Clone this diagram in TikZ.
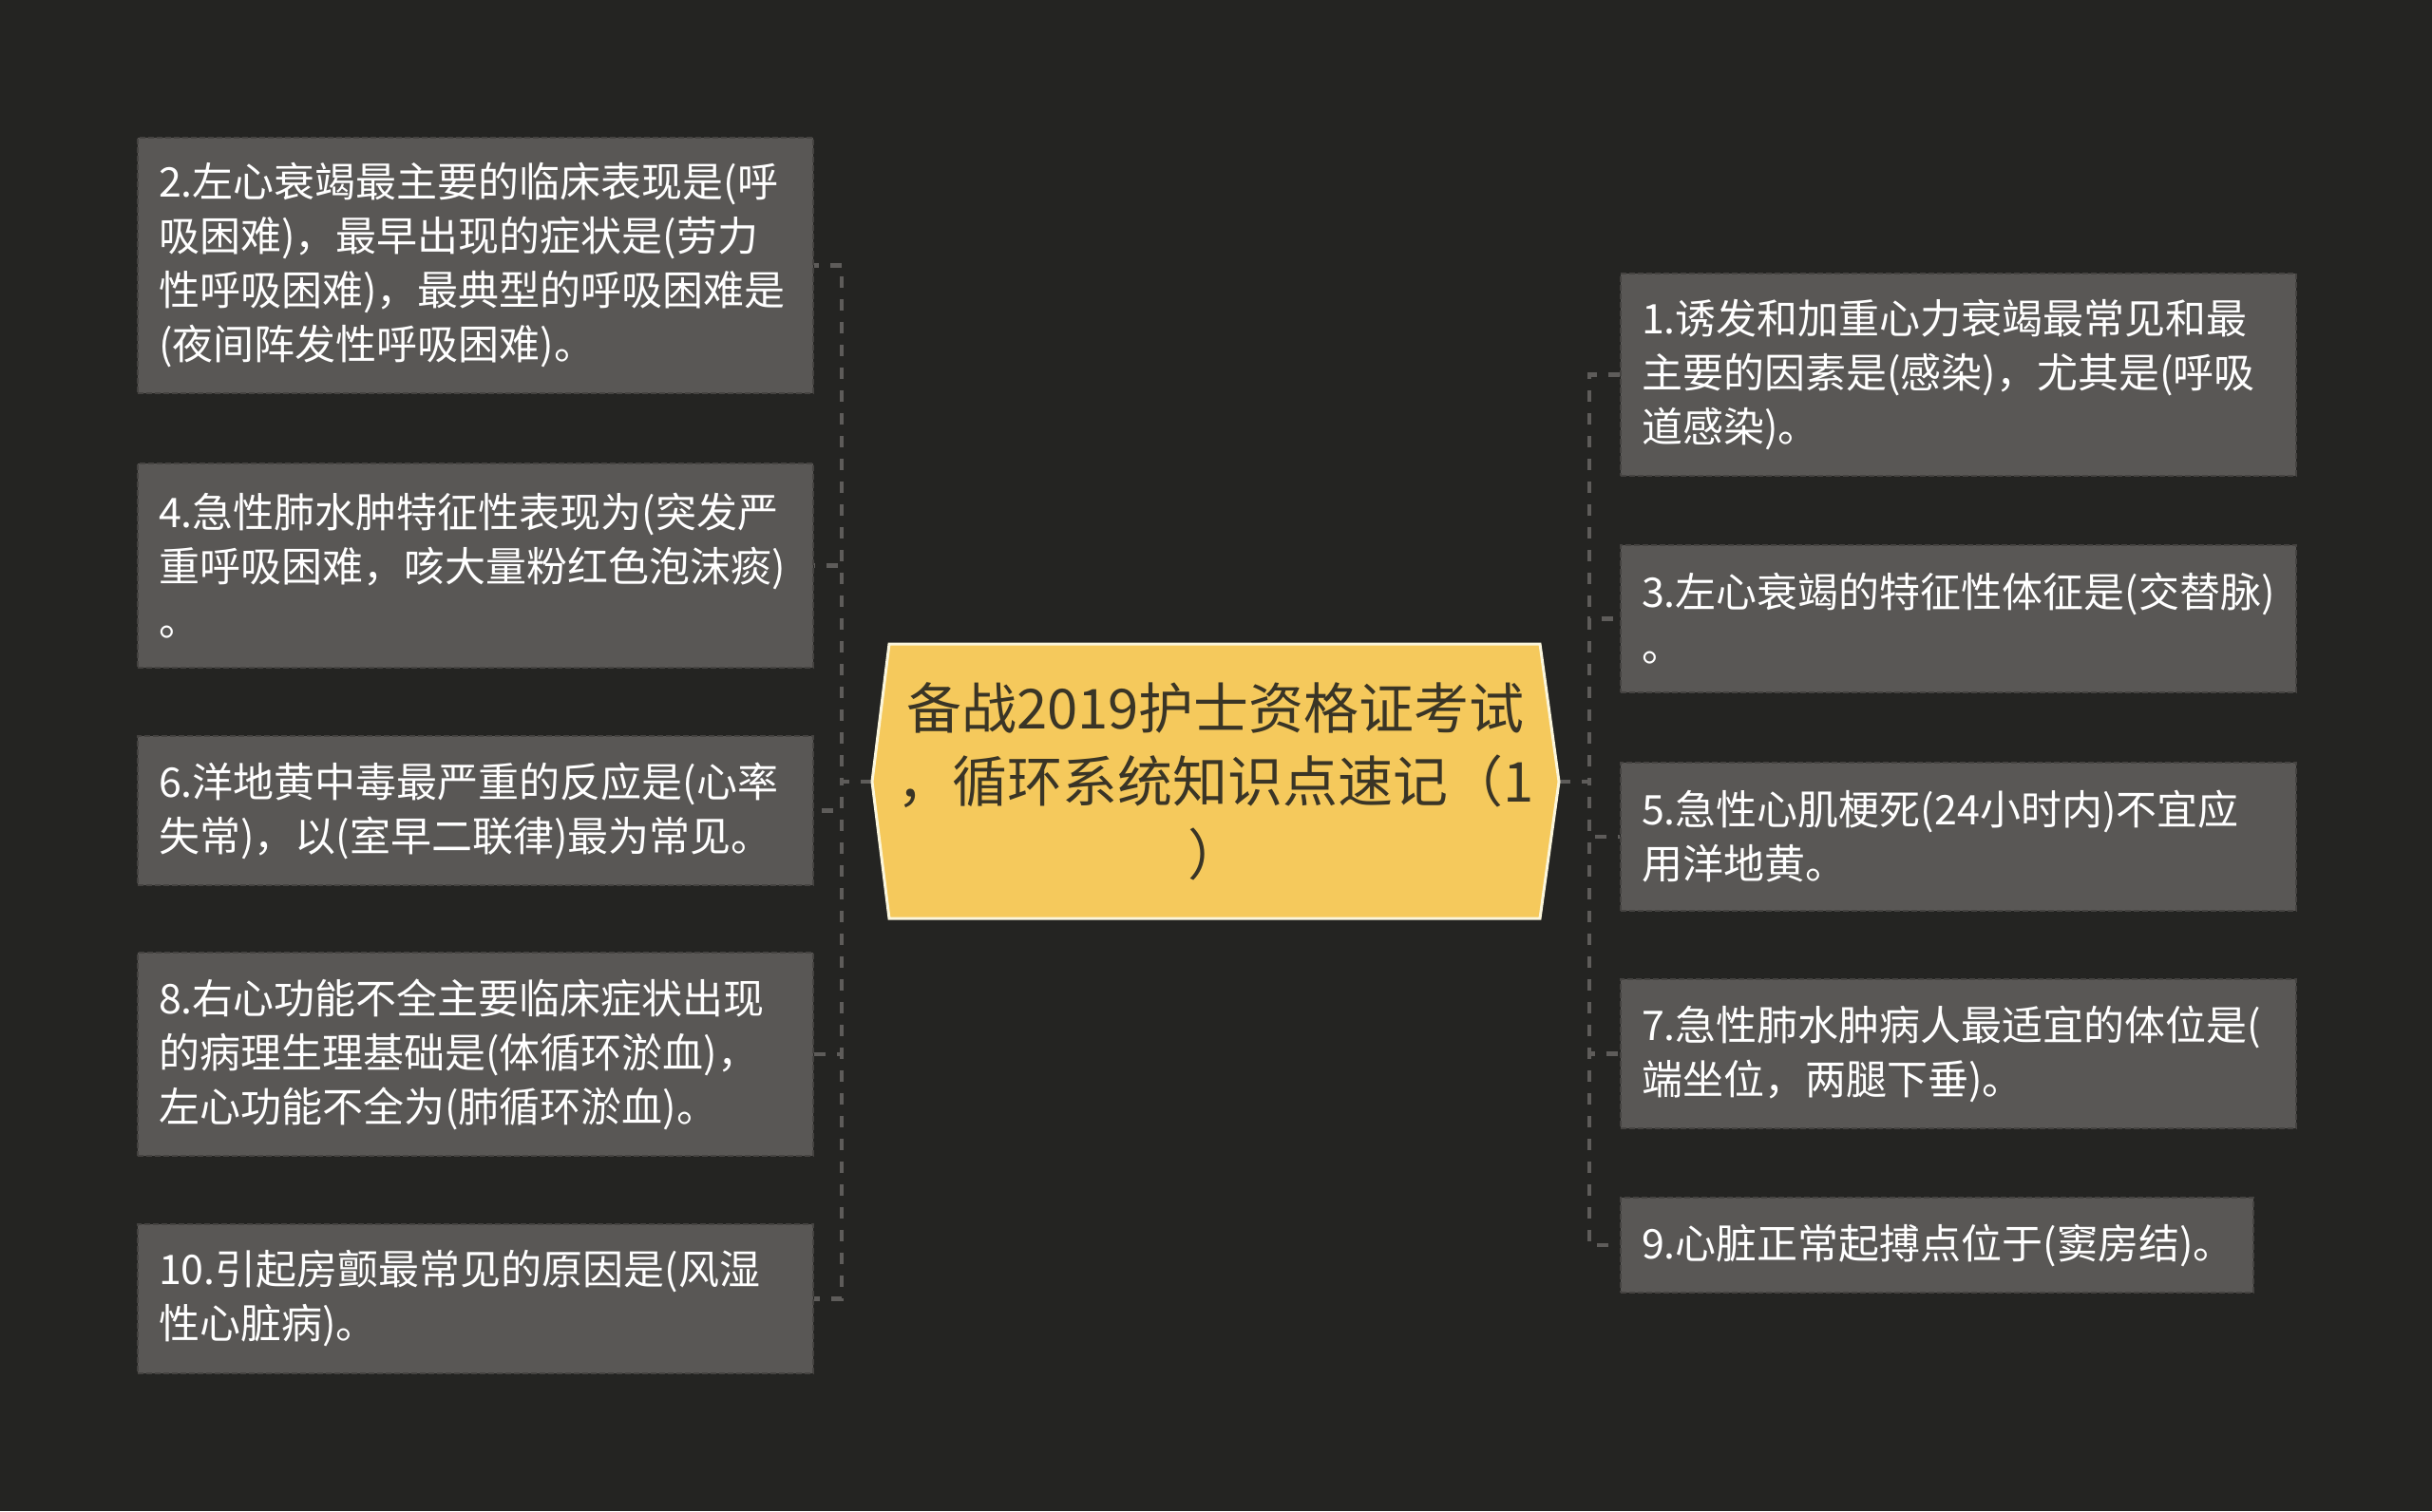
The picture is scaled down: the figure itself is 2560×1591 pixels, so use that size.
\documentclass[tikz,border=0pt]{standalone}
\usepackage{fontspec}
\newfontfamily\cjk{Noto Sans CJK SC}
\definecolor{bg}{HTML}{242422}
\definecolor{boxfill}{HTML}{595755}
\definecolor{boxborder}{HTML}{454341}
\definecolor{conncol}{HTML}{5E5C5A}
\definecolor{hexfill}{HTML}{F5C95C}
\definecolor{hexborder}{HTML}{FBF6DC}
\definecolor{hextext}{HTML}{3A3526}
\tikzset{
  infobox/.style={draw=boxborder, line width=2pt, dash pattern=on 6pt off 3pt,
    fill=boxfill, text=white, font=\cjk\fontsize{43}{57}\selectfont,
    align=left, text width=667pt, inner xsep=22pt, inner ysep=0pt, anchor=north west},
  conn/.style={draw=conncol, line width=4.5pt, dash pattern=on 12pt off 12pt},
}
\begin{document}
\begin{tikzpicture}[x=1pt,y=-1pt]
\fill[bg] (0,0) rectangle (2560,1591);
\useasboundingbox (0,0) rectangle (2560,1591);

% left boxes
\node[infobox, minimum height=269pt] (b2) at (144,144) {2.左心衰竭最主要的临床表现是(呼\\吸困难)，最早出现的症状是(劳力\\性呼吸困难)，最典型的呼吸困难是\\(夜间阵发性呼吸困难)。};
\node[infobox, minimum height=215pt] (b4) at (144,487) {4.急性肺水肿特征性表现为(突发严\\重呼吸困难，咳大量粉红色泡沫痰)\\。};
\node[infobox, minimum height=157pt] (b6) at (144,774) {6.洋地黄中毒最严重的反应是(心率\\失常)，以(室早二联律)最为常见。};
\node[infobox, minimum height=214pt] (b8) at (144,1002) {8.右心功能不全主要临床症状出现\\的病理生理基础是(体循环淤血)，\\左心功能不全为(肺循环淤血)。};
\node[infobox, minimum height=157pt] (b10) at (144,1288) {10.引起房颤最常见的原因是(风湿\\性心脏病)。};

% right boxes
\node[infobox, minimum height=213pt] (b1) at (1705,287) {1.诱发和加重心力衰竭最常见和最\\主要的因素是(感染)，尤其是(呼吸\\道感染)。};
\node[infobox, minimum height=155pt] (b3) at (1705,573) {3.左心衰竭的特征性体征是(交替脉)\\。};
\node[infobox, minimum height=156pt] (b5) at (1705,802) {5.急性心肌梗死(24小时内)不宜应\\用洋地黄。};
\node[infobox, minimum height=157pt] (b7) at (1705,1030) {7.急性肺水肿病人最适宜的体位是(\\端坐位，两腿下垂)。};
\node[infobox, minimum height=100pt, text width=622pt] (b9) at (1705,1260) {9.心脏正常起搏点位于(窦房结)。};

% center hexagon
\coordinate (cl) at (918,823);
\coordinate (cr) at (1641,823);
\coordinate (lj) at (886,823);
\coordinate (rj) at (1673,823);

\draw[conn] (cl) -- (lj) |- (b2.east);
\draw[conn] (cl) -- (lj) |- (b4.east);
\draw[conn] (cl) -- (lj) |- (b6.east);
\draw[conn] (cl) -- (lj) |- (b8.east);
\draw[conn] (cl) -- (lj) |- (b10.east);
\draw[conn] (cr) -- (rj) |- (b1.west);
\draw[conn] (cr) -- (rj) |- (b3.west);
\draw[conn] (cr) -- (rj) |- (b5.west);
\draw[conn] (cr) -- (rj) |- (b7.west);
\draw[conn] (cr) -- (rj) |- (b9.west);

\draw[draw=hexborder, fill=hexfill, line width=3pt, line join=miter]
  (cl) -- (936,678) -- (1621,678) -- (cr) -- (1621,967) -- (936,967) -- cycle;
\node[font=\cjk\fontsize{58}{77}\selectfont, align=center, text=hextext, inner sep=0pt] (c) at (1279.5,823)
  {备战2019护士资格证考试\\，循环系统知识点速记（1\\）};
\end{tikzpicture}
\end{document}
